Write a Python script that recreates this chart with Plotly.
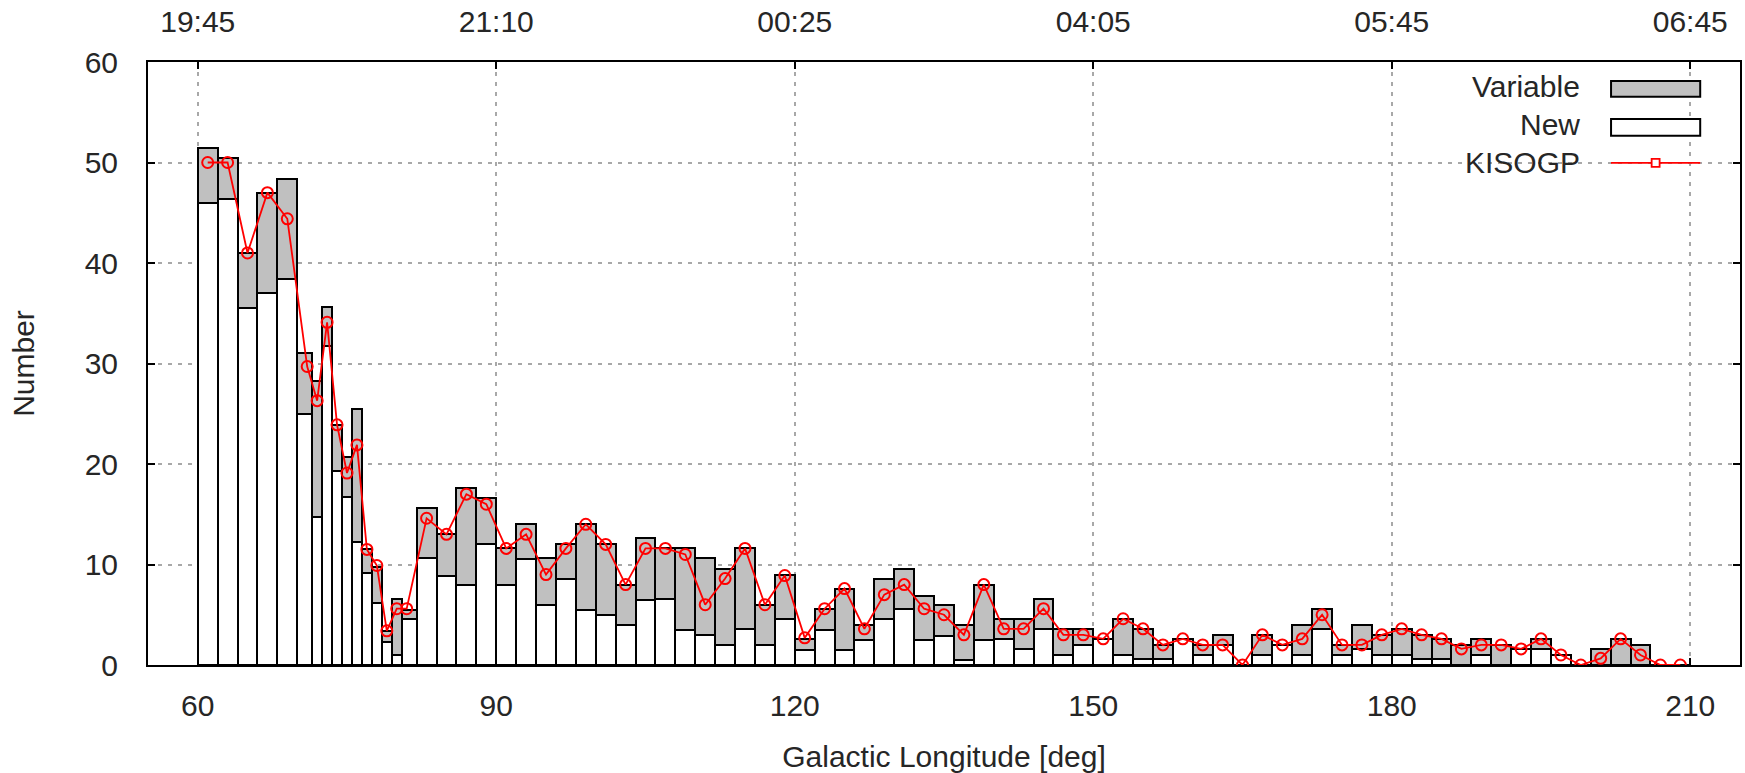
import plotly.graph_objects as go

# ---- data ----
bin_edges = [60, 62, 64, 66, 68, 70, 71.5, 72.5, 73.5, 74.5, 75.5, 76.5, 77.5, 78.5,
             79.5, 80.5, 82, 84, 86, 88, 90, 92, 94, 96, 98, 100, 102, 104, 106, 108,
             110, 112, 114, 116, 118, 120, 122, 124, 126, 128, 130, 132, 134, 136, 138,
             140, 142, 144, 146, 148, 150, 152, 154, 156, 158, 160, 162, 164, 166, 168,
             170, 172, 174, 176, 178, 180, 182, 184, 186, 188, 190, 192, 194, 196, 198,
             200, 202, 204, 206, 208, 210]

new_counts = [46.0, 46.4, 35.5, 37.0, 38.4, 25.0, 14.7, 31.7, 19.3, 16.7, 12.2, 9.2, 6.2,
              2.3, 1.0, 4.6, 10.6, 8.9, 8.0, 12.0, 8.0, 10.5, 6.0, 8.6, 5.5, 5.0, 4.0,
              6.5, 6.6, 3.5, 3.0, 2.0, 3.6, 2.0, 4.6, 1.5, 3.5, 1.5, 2.5, 4.6, 5.6, 2.5,
              2.9, 0.5, 2.5, 2.6, 1.6, 3.6, 1.0, 2.0, 2.6, 1.0, 0.6, 0.6, 2.6, 1.0, 2.0,
              0.0, 1.0, 2.0, 1.0, 3.6, 1.0, 1.6, 1.0, 1.0, 0.6, 0.6, 0.0, 1.0, 0.0, 1.6,
              1.6, 1.0, 0.0, 0.0, 0.0, 0.0, 0.0, 0.0]

variable_counts = [5.4, 4.0, 5.5, 10.0, 10.0, 6.0, 13.6, 3.9, 4.6, 4.0, 13.3, 2.3, 3.6,
                   1.1, 5.6, 0.9, 5.0, 4.1, 9.6, 4.6, 3.6, 3.5, 4.6, 3.4, 8.5, 7.0, 4.0,
                   6.1, 5.0, 8.1, 7.6, 7.6, 8.0, 4.0, 4.4, 1.1, 2.1, 6.1, 1.5, 4.0, 4.0,
                   4.4, 3.1, 3.5, 5.5, 2.0, 3.0, 3.0, 2.6, 1.6, 0.0, 3.6, 3.0, 1.4, 0.0,
                   1.0, 1.0, 0.0, 2.0, 0.0, 3.0, 2.0, 1.0, 2.4, 2.0, 2.6, 2.4, 2.0, 2.0,
                   1.6, 2.0, 0.0, 1.0, 0.0, 0.0, 1.6, 2.6, 2.0, 0.0, 0.0]

kisogp_lon = [61, 63, 65, 67, 69, 71, 72, 73, 74, 75, 76, 77, 78, 79, 80, 81, 83, 85, 87,
              89, 91, 93, 95, 97, 99, 101, 103, 105, 107, 109, 111, 113, 115, 117, 119,
              121, 123, 125, 127, 129, 131, 133, 135, 137, 139, 141, 143, 145, 147, 149,
              151, 153, 155, 157, 159, 161, 163, 165, 167, 169, 171, 173, 175, 177, 179,
              181, 183, 185, 187, 189, 191, 193, 195, 197, 199, 201, 203, 205, 207, 209]

kisogp_counts = [50, 50, 41, 47, 44.4, 29.7, 26.3, 34.1, 23.9, 19.1, 21.9, 11.5, 9.9, 3.4,
                 5.6, 5.6, 14.6, 13.0, 17.0, 16.0, 11.6, 13.0, 9.0, 11.6, 14.0, 12.0, 8.0,
                 11.6, 11.6, 11.0, 6.0, 8.6, 11.6, 6.0, 8.9, 2.7, 5.6, 7.6, 3.6, 7.0, 8.0,
                 5.6, 5.0, 3.0, 8.0, 3.6, 3.6, 5.6, 3.0, 3.0, 2.6, 4.6, 3.6, 2.0, 2.6, 2.0,
                 2.0, 0.0, 3.0, 2.0, 2.6, 5.0, 2.0, 2.0, 3.0, 3.6, 3.0, 2.6, 1.6, 2.0, 2.0,
                 1.6, 2.6, 1.0, 0.0, 0.66, 2.6, 1.0, 0.0, 0.0]

x_ticks = [60, 90, 120, 150, 180, 210]
top_tick_labels = ["19:45", "21:10", "00:25", "04:05", "05:45", "06:45"]
y_ticks = [0, 10, 20, 30, 40, 50, 60]

# ---- derived bar geometry ----
centers = [(a + b) / 2 for a, b in zip(bin_edges[:-1], bin_edges[1:])]
widths = [b - a for a, b in zip(bin_edges[:-1], bin_edges[1:])]

FONT = "Liberation Sans, Arial, sans-serif"
FS = 30
TXT = "#262626"
GRID = "#a8a8a8"

fig = go.Figure()
fig.add_trace(go.Bar(x=centers, y=new_counts, width=widths, name="New",
                     marker=dict(color="white", line=dict(color="black", width=2)),
                     showlegend=False))
fig.add_trace(go.Bar(x=centers, y=variable_counts, width=widths, name="Variable",
                     marker=dict(color="#c0c0c0", line=dict(color="black", width=2)),
                     showlegend=False))
fig.add_trace(go.Scatter(x=kisogp_lon, y=kisogp_counts, mode="lines+markers", name="KISOGP",
                         line=dict(color="#ff0000", width=1.8),
                         marker=dict(symbol="circle-open", size=11, color="#ff0000",
                                     line=dict(width=2, color="#ff0000")),
                         showlegend=False))
# invisible trace to carry the top (time) axis
fig.add_trace(go.Scatter(x=x_ticks, y=[0] * len(x_ticks), xaxis="x2", mode="markers",
                         marker=dict(opacity=0), hoverinfo="skip", showlegend=False))
# dummy trace so that the right axis is drawn
fig.add_trace(go.Scatter(x=[None], y=[None], yaxis="y2", showlegend=False, hoverinfo="skip"))

axis_common = dict(showline=True, linecolor="black", linewidth=2, mirror=False,
                   ticks="inside", ticklen=7, tickcolor="black", tickwidth=1.5,
                   tickfont=dict(family=FONT, size=FS, color=TXT),
                   showgrid=True, gridcolor=GRID, gridwidth=1.5, griddash="4px,6px",
                   zeroline=False, automargin=False)

fig.update_layout(
    width=1745, height=773,
    margin=dict(l=148, r=5, t=62, b=108),
    paper_bgcolor="white", plot_bgcolor="white",
    barmode="stack", bargap=0,
    font=dict(family=FONT, size=FS, color=TXT),
    xaxis=dict(range=[55, 215], tickvals=x_ticks, ticklabelstandoff=13,
               title=dict(text="Galactic Longitude [deg]", standoff=28,
                          font=dict(family=FONT, size=FS, color=TXT)),
               **axis_common),
    xaxis2=dict(range=[55, 215], overlaying="x", side="top", tickvals=x_ticks,
                ticktext=top_tick_labels, ticklabelstandoff=16,
                showline=True, linecolor="black", linewidth=2,
                ticks="inside", ticklen=7, tickcolor="black", tickwidth=1.5,
                tickfont=dict(family=FONT, size=FS, color=TXT),
                showgrid=False, zeroline=False, automargin=False),
    yaxis=dict(range=[0, 60], tickvals=y_ticks, ticklabelstandoff=22,
               title=dict(text="Number", standoff=41,
                          font=dict(family=FONT, size=FS, color=TXT)),
               **axis_common),
    yaxis2=dict(range=[0, 60], overlaying="y", side="right", tickvals=y_ticks,
                showticklabels=False, showline=True, linecolor="black", linewidth=2,
                ticks="inside", ticklen=7, tickcolor="black", tickwidth=1.5,
                showgrid=False, zeroline=False, automargin=False),
)

# ---- gnuplot-style key (text on the left, sample on the right) ----
shapes = [
    dict(type="rect", xref="paper", yref="paper", x0=0.807, x1=0.99, y0=0.80, y1=0.997,
         fillcolor="white", line=dict(width=0), layer="between"),
    dict(type="rect", xref="paper", yref="paper", x0=0.919, x1=0.975, y0=0.9425, y1=0.9685,
         fillcolor="#c0c0c0", line=dict(color="black", width=2)),
    dict(type="rect", xref="paper", yref="paper", x0=0.919, x1=0.975, y0=0.8779, y1=0.9056,
         fillcolor="white", line=dict(color="black", width=2)),
    dict(type="line", xref="paper", yref="paper", x0=0.919, x1=0.975, y0=0.8327, y1=0.8327,
         line=dict(color="#ff0000", width=1.8)),
    dict(type="rect", xref="paper", yref="paper", x0=0.9445, x1=0.9495, y0=0.8262, y1=0.8392,
         fillcolor="white", line=dict(color="#ff0000", width=1.8)),
]
annotations = [
    dict(text=t, xref="paper", yref="paper", x=0.9007, y=yy, xanchor="right", yanchor="middle",
         showarrow=False, font=dict(family=FONT, size=FS, color=TXT))
    for t, yy in [("Variable", 0.959), ("New", 0.8956), ("KISOGP", 0.8327)]
]
fig.update_layout(shapes=shapes, annotations=annotations)

# remove the browser's default 8px body margin so the figure fills the window exactly
fig.write_html("out.html",
               config={"displayModeBar": False},
               post_script="document.body.style.margin='0';document.body.style.overflow='hidden';")
